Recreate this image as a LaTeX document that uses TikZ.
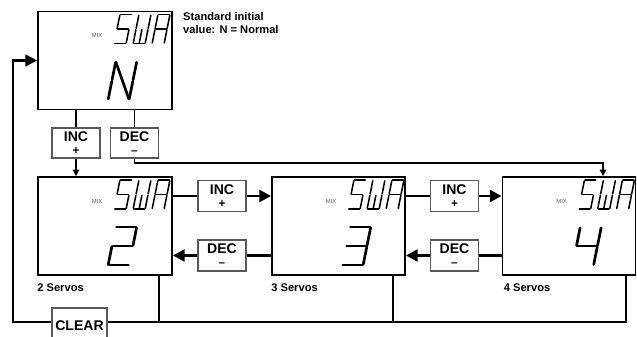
\documentclass[tikz,border=0pt]{standalone}
\usepackage{fontspec}
\setmainfont{Liberation Sans}
\usetikzlibrary{arrows.meta,calc}

\def\glyphS{0/1/1/1, 0/1/0/.5, 0/.5/1/.5, 1/.5/1/0, 0/0/1/0}
\def\glyphW{0/1/0/.5, 0/.5/0/0, 0/0/1/0, 1/0/1/.5, 1/.5/1/1, .5/0/.5/.5}
\def\glyphA{0/0/0/.5, 0/.5/0/1, 0/1/1/1, 1/1/1/.5, 1/.5/1/0, 0/.5/1/.5}
\def\glyphN{0/0/0/.5, 0/.5/0/1, 0/1/1/0, 1/0/1/.5, 1/.5/1/1}
\def\glyphTwo{0/1/1/1, 1/1/1/.5, 1/.5/0/.5, 0/.5/0/0, 0/0/1/0}
\def\glyphThree{0/1/1/1, 1/1/1/.5, 1/.5/0/.5, 1/.5/1/0, 0/0/1/0}
\def\glyphFour{0/1/0/.5, 0/.5/1/.5, 1/1/1/.5, 1/.5/1/0}
\newcommand{\pxu}{0.03cm}
\newcommand{\segglyph}[1]{\foreach \xa/\ya/\xb/\yb in #1 {\draw[segline] (\xa,\ya) -- (\xb,\yb);}}

\begin{document}
\begin{tikzpicture}[
  x=\pxu, y=\pxu,
  lcdbox/.style={draw, line width=1.5pt, minimum width=134*\pxu, minimum height=98*\pxu, inner sep=0pt},
  keybox/.style={draw=gray!70!black, line width=1pt, fill=white, align=center, inner sep=0pt,
    minimum width=48*\pxu, minimum height=31*\pxu, font=\fontsize{12}{11}\selectfont\bfseries},
  servolbl/.style={anchor=north west, inner sep=0pt, font=\fontsize{9.5}{11}\selectfont\bfseries},
  mixlbl/.style={inner sep=0pt, text=gray!70!black, font=\fontsize{5}{5}\selectfont},
  segline/.style={line cap=round, shorten <=.6pt, shorten >=.6pt},
  thinline/.style={draw, line width=1.6pt},
  bigline/.style={draw, line width=2.4pt},
  loopline/.style={draw, line width=1.8pt},
  bigtip/.style={-{Triangle[length=10pt,width=10pt]}},
  smalltip/.style={-{Triangle[length=5.5pt,width=5.5pt]}},
  pics/lcd/.style={code={
    \node[mixlbl] at (60,-25) {MIX};
    \begin{scope}[shift={(77,-33)}, xslant=.2, xscale=12, yscale=29, line width=1.3pt]
      \segglyph{\glyphS}
    \end{scope}
    \begin{scope}[shift={(96,-33)}, xslant=.2, xscale=12, yscale=29, line width=1.3pt]
      \segglyph{\glyphW}
    \end{scope}
    \begin{scope}[shift={(115,-33)}, xslant=.2, xscale=12, yscale=29, line width=1.3pt]
      \segglyph{\glyphA}
    \end{scope}
    \begin{scope}[shift={(71,-89)}, xslant=.2, xscale=21, yscale=38, line width=2.3pt]
      \segglyph{#1}
    \end{scope}
  }}
]
\useasboundingbox (0,0) rectangle (637,337);

\node[lcdbox] (top) at (105,276.5) {};
\node[lcdbox] (two) at (105,111) {};
\node[lcdbox, minimum width=133*\pxu] (three) at (338.5,111) {};
\node[lcdbox, minimum width=133*\pxu] (four) at (569,111) {};

\pic at (top.north west) {lcd=\glyphN};
\pic at (two.north west) {lcd=\glyphTwo};
\pic at (three.north west) {lcd=\glyphThree};
\pic at (four.north west) {lcd=\glyphFour};

\node[anchor=north west, inner sep=0pt, align=left, font=\fontsize{9.5}{11}\selectfont\bfseries] (note) at (183,325) {Standard initial\\value: N = Normal};

\node[keybox, minimum height=30*\pxu] (incA) at (76,194) {INC\\{\fontsize{10}{10}\selectfont +}};
\node[keybox, minimum height=30*\pxu] (decA) at (134.5,194) {DEC\\{\fontsize{10}{10}\selectfont\textendash}};
\node[keybox] (incB) at (222,141) {INC\\{\fontsize{10}{10}\selectfont +}};
\node[keybox] (decB) at (222,81.5) {DEC\\{\fontsize{10}{10}\selectfont\textendash}};
\node[keybox] (incC) at (454.5,141) {INC\\{\fontsize{10}{10}\selectfont +}};
\node[keybox] (decC) at (454.5,81.5) {DEC\\{\fontsize{10}{10}\selectfont\textendash}};
\node[keybox, minimum width=55*\pxu, minimum height=44*\pxu, text depth=8pt] (clear) at (79.5,7) {CLEAR};

\node[servolbl] (lbl2) at ($(two.south west)+(0,-8)$) {2 Servos};
\node[servolbl] (lbl3) at ($(three.south west)+(0,-8)$) {3 Servos};
\node[servolbl] (lbl4) at ($(four.south west)+(2,-8)$) {4 Servos};

\draw[thinline] (incA.north |- top.south) -- (incA.north);
\draw[thinline] (decA.north |- top.south) -- (decA.north);
\draw[thinline, smalltip] (incA.south) -- (incA.south |- two.north);
\draw[thinline, smalltip] (decA.south) -- ++(0,-4) -| ($(four.north)+(34,0)$);

\draw[bigline] (incB.west -| two.east) -- (incB.west);
\draw[bigline, bigtip] (incB.east) -- (incB.east -| three.west);
\draw[bigline] (decB.east -| three.west) -- (decB.east);
\draw[bigline, bigtip] (decB.west) -- (decB.west -| two.east);
\draw[bigline] (incC.west -| three.east) -- (incC.west);
\draw[bigline, bigtip] (incC.east) -- (incC.east -| four.west);
\draw[bigline] (decC.east -| four.west) -- (decC.east);
\draw[bigline, bigtip] (decC.west) -- (decC.west -| three.east);

\coordinate (loopL) at (13,15);
\draw[loopline] ($(four.south east)+(-10,0)$) coordinate (d4) |- (clear.east |- loopL);
\draw[loopline] ($(three.south east)+(-13,0)$) coordinate (d3) -- (d3 |- loopL);
\draw[loopline] ($(two.south east)+(-14,0)$) coordinate (d2) -- (d2 |- loopL);
\draw[loopline, bigtip] (clear.west |- loopL) -- (loopL) |- (top.west);

\end{tikzpicture}
\end{document}
